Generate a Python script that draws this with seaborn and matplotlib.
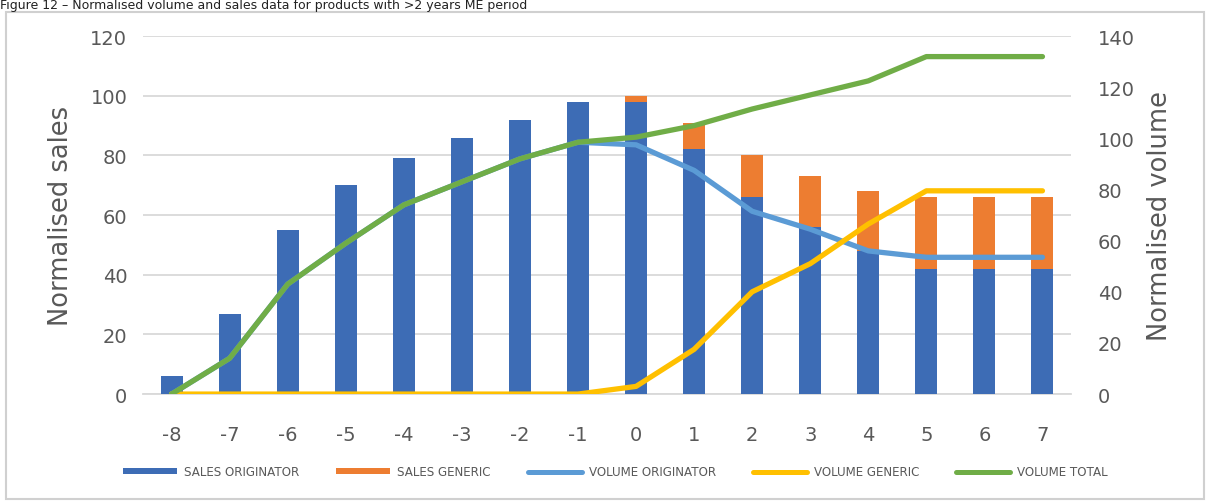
import numpy as np
import pandas as pd
import matplotlib
matplotlib.use("Agg")
import matplotlib.pyplot as plt
import seaborn as sns
from matplotlib.patches import Patch, Rectangle
from matplotlib.lines import Line2D

# ---- data ----
periods = ["-8", "-7", "-6", "-5", "-4", "-3", "-2", "-1", "0", "1", "2", "3", "4", "5", "6", "7"]
sales_originator = [6, 27, 55, 70, 79, 86, 92, 98, 98, 82, 66, 56, 48, 42, 42, 42]
sales_generic = [0, 0, 0, 0, 0, 0, 0, 0, 2, 9, 14, 17, 20, 24, 24, 24]
volume_originator = [0, 14, 43, 59, 74, 83, 92, 98.5, 97.5, 87.5, 71.5, 64.5, 56, 53.5, 53.5, 53.5]
volume_generic = [0, 0, 0, 0, 0, 0, 0, 0, 3, 17.5, 40, 51, 66.5, 79.5, 79.5, 79.5]
volume_total = [0, 14, 43, 59, 74, 83, 92, 98.5, 100.5, 105, 111.5, 117, 122.5, 132, 132, 132]

legend_labels = ["SALES ORIGINATOR", "SALES GENERIC", "VOLUME ORIGINATOR", "VOLUME GENERIC", "VOLUME TOTAL"]
title_text = "Figure 12 \u2013 Normalised volume and sales data for products with >2 years ME period"

C_BLUE = "#3D6CB5"
C_ORANGE = "#ED7D31"
C_LBLUE = "#5B9BD5"
C_YELLOW = "#FFC000"
C_GREEN = "#70AD47"
C_TEXT = "#595959"
C_GRID = "#D9D9D9"

sns.set_theme(style="white")
plt.rcParams["font.family"] = ["DejaVu Sans"]

fig = plt.figure(figsize=(12.08, 5.02), dpi=100)
ax = fig.add_axes([0.118, 0.213, 0.769, 0.713])

df = pd.DataFrame({
    "period": periods,
    "orig": sales_originator,
    "total": np.array(sales_originator) + np.array(sales_generic),
})

sns.barplot(data=df, x="period", y="total", color=C_ORANGE, width=0.38,
            saturation=1, ax=ax, zorder=2, order=periods, linewidth=0, edgecolor="none")
sns.barplot(data=df, x="period", y="orig", color=C_BLUE, width=0.38,
            saturation=1, ax=ax, zorder=3, order=periods, linewidth=0, edgecolor="none")

ax.set_xlim(-0.5, len(periods) - 0.5)
ax.set_ylim(0, 120)
ax.set_yticks(np.arange(0, 121, 20))
ax.yaxis.grid(True, color=C_GRID, linewidth=1.3, zorder=0)
ax.set_axisbelow(True)
for s in ["top", "right", "left"]:
    ax.spines[s].set_visible(False)
ax.spines["bottom"].set_color(C_GRID)
ax.spines["bottom"].set_linewidth(1.3)
ax.tick_params(axis="both", length=0, labelsize=14, colors=C_TEXT)
ax.tick_params(axis="x", pad=22)
ax.tick_params(axis="y", pad=11)
ax.set_xlabel("")
ax.set_ylabel("Normalised sales", fontsize=18.5, color=C_TEXT, labelpad=12)

ax2 = ax.twinx()
xpos = np.arange(len(periods))
vdf = pd.DataFrame({
    "x": np.tile(xpos, 3),
    "v": volume_originator + volume_generic + volume_total,
    "series": ["VOLUME ORIGINATOR"] * len(periods) + ["VOLUME GENERIC"] * len(periods) + ["VOLUME TOTAL"] * len(periods),
})
sns.lineplot(data=vdf, x="x", y="v", hue="series",
             palette={"VOLUME ORIGINATOR": C_LBLUE, "VOLUME GENERIC": C_YELLOW, "VOLUME TOTAL": C_GREEN},
             linewidth=3.8, ax=ax2, legend=False, solid_capstyle="round", sort=False)
ax2.set_ylim(0, 140)
ax2.set_yticks(np.arange(0, 141, 20))
ax2.set_xlim(-0.5, len(periods) - 0.5)
for s in ["top", "right", "left", "bottom"]:
    ax2.spines[s].set_visible(False)
ax2.tick_params(axis="y", length=0, labelsize=14, colors=C_TEXT, pad=19)
ax2.set_xlabel("")
ax2.set_ylabel("Normalised volume", fontsize=18.5, color=C_TEXT, labelpad=9)

handles = [
    Patch(facecolor=C_BLUE, edgecolor="none"),
    Patch(facecolor=C_ORANGE, edgecolor="none"),
    Line2D([0], [0], color=C_LBLUE, linewidth=3.6),
    Line2D([0], [0], color=C_YELLOW, linewidth=3.6),
    Line2D([0], [0], color=C_GREEN, linewidth=3.6),
]
leg = fig.legend(handles, legend_labels, loc="center", bbox_to_anchor=(0.5095, 0.058),
                 ncol=5, frameon=False, fontsize=8.6, handlelength=4.5, handleheight=0.45,
                 handletextpad=0.6, columnspacing=3.1)
for t in leg.get_texts():
    t.set_color(C_TEXT)

# outer frame
fig.patches.append(Rectangle((0.005, 0.004), 0.992, 0.97, transform=fig.transFigure,
                             fill=False, edgecolor="#D0D0D0", linewidth=1.5))
# caption at top
fig.text(0.0, 1.0 - 9 / 502, title_text, fontsize=9, color="#222222",
         ha="left", va="baseline")

fig.savefig("out.png", dpi=100)
